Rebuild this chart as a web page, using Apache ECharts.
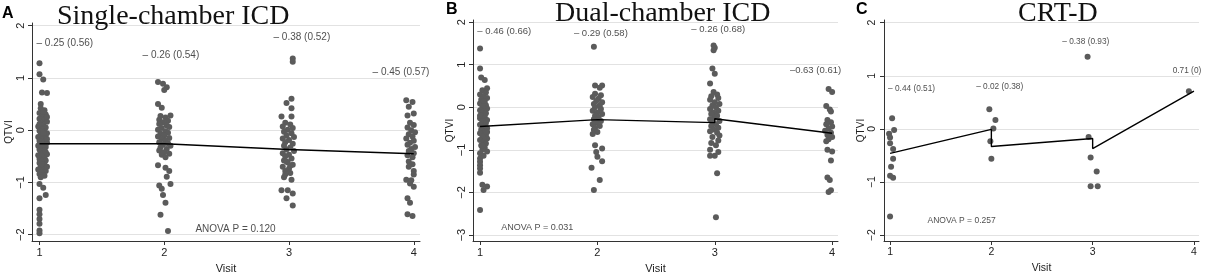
<!DOCTYPE html>
<html>
<head>
<meta charset="utf-8">
<script src="https://cdn.jsdelivr.net/npm/echarts@6/dist/echarts.min.js"></script>
<style>
  html, body { margin: 0; padding: 0; background: #fff; }
  #chart { width: 1205px; height: 279px; }
</style>
</head>
<body>
<div id="chart"></div>
<script>
// visit categories on the x axis
const visits = [1, 2, 3, 4]
const ticksA = [-2, -1, 0, 1, 2]
const ticksB = [-3, -2, -1, 0, 1, 2]
const ticksC = [-2, -1, 0, 1, 2]

// QTVI per patient, [visit + jitter, value]
const singleV1 = [[1.0,1.28],[1.0,1.07],[1.03,0.97],[1.02,0.72],[1.06,0.71],[1.01,0.5],
  [1.01,0.42],[1.04,0.38],[1.0,0.33],[1.05,0.3],[1.02,0.27],[1.0,0.22],[1.04,0.2],[1.06,0.16],[1.01,0.13],[1.03,0.1],
  [0.99,0.07],[1.05,0.05],[1.02,0.02],[1.0,-0.01],[1.04,-0.03],[1.06,-0.06],[1.01,-0.08],[1.03,-0.11],[0.99,-0.13],
  [1.05,-0.15],[1.02,-0.18],[1.0,-0.2],[1.04,-0.22],[1.06,-0.24],[1.01,-0.26],[1.03,-0.28],[0.99,-0.3],[1.05,-0.32],
  [1.02,-0.34],[1.0,-0.37],[1.04,-0.39],[1.01,-0.41],[1.03,-0.44],[1.06,-0.46],[0.99,-0.48],[1.02,-0.5],[1.04,-0.53],
  [1.0,-0.55],[1.05,-0.58],[1.02,-0.6],[1.0,-0.63],[1.04,-0.66],[1.01,-0.69],[1.03,-0.72],[0.99,-0.75],[1.05,-0.78],
  [1.02,-0.81],[1.0,-0.84],[1.04,-0.87],[1.01,-0.9],[1.03,0.35],[1.06,0.25],[1.0,0.12],[1.03,-0.05],[1.06,-0.17],
  [1.0,-0.27],[1.05,-0.42],[1.02,-0.65],[1.06,-0.7],
  [1.0,-1.03],[1.03,-1.1],[1.05,-1.24],[1.0,-1.3],[1.0,-1.52],[1.0,-1.61],[1.0,-1.7],[1.0,-1.79],[1.0,-1.92],[1.0,-1.97]]
const singleV2 = [[1.95,0.92],[1.99,0.89],[2.02,0.82],[2.0,0.77],[1.95,0.5],[1.98,0.43],
  [2.05,0.28],[1.97,0.27],[2.01,0.24],[1.96,0.2],[2.03,0.18],[1.99,0.15],[1.96,0.12],[2.02,0.09],[2.04,0.06],[1.98,0.04],
  [1.95,0.01],[2.01,-0.02],[2.03,-0.05],[1.97,-0.07],[2.0,-0.1],[1.95,-0.12],[2.04,-0.15],[1.98,-0.17],[2.01,-0.2],
  [1.96,-0.23],[2.03,-0.25],[1.99,-0.28],[2.05,-0.3],[1.97,-0.33],[2.02,-0.36],[1.96,-0.39],[2.0,-0.42],[2.04,-0.45],
  [1.98,-0.47],[2.01,-0.52],
  [1.95,-0.67],[2.01,-0.72],[2.04,-0.78],[2.02,-0.89],[2.05,-1.03],[1.96,-1.06],[1.98,-1.12],[1.99,-1.24],[2.01,-1.39],
  [1.97,-1.62],[2.03,-1.93]]
const singleV3 = [[3.03,1.37],[3.03,1.31],[3.02,0.6],[2.98,0.52],[3.02,0.42],[2.94,0.26],[3.02,0.26],
  [2.97,0.14],[3.01,0.11],[2.95,0.07],[3.03,0.04],[2.99,0.01],[2.96,-0.03],[3.02,-0.06],[2.98,-0.1],[3.04,-0.13],
  [2.95,-0.16],[3.0,-0.19],[2.97,-0.23],[3.03,-0.26],[2.96,-0.3],[3.01,-0.33],[2.98,-0.37],[3.04,-0.4],[2.95,-0.44],
  [3.0,-0.47],[2.97,-0.5],[3.02,-0.54],[2.96,-0.58],[2.99,-0.62],[3.03,-0.66],[2.95,-0.7],[3.0,-0.74],[2.97,-0.78],
  [3.01,-0.82],[2.96,-0.9],[3.02,-0.95],[2.98,-0.6],[3.01,-0.68],[2.97,-0.85],
  [2.94,-1.15],[2.99,-1.15],[2.98,-1.3],[3.03,-1.21],[3.03,-1.44]]
const singleV4 = [[3.94,0.57],[3.99,0.54],[3.96,0.45],[4.0,0.32],[3.95,0.28],
  [3.97,0.14],[4.0,0.1],[3.95,0.05],[3.98,0.0],[4.01,-0.04],[3.96,-0.08],[3.99,-0.12],[3.94,-0.16],[4.0,-0.2],
  [3.97,-0.24],[3.95,-0.28],[4.01,-0.32],[3.98,-0.36],[3.96,-0.4],[4.0,-0.44],[3.95,-0.48],[3.99,-0.52],
  [3.96,-0.6],[3.99,-0.65],[3.96,-0.7],[4.0,-0.78],[4.0,-0.85],[3.94,-0.95],[3.98,-0.96],[3.97,-1.02],[4.0,-1.08],
  [3.95,-1.3],[3.97,-1.39],[3.95,-1.61],[3.99,-1.64]]

const dualV1 = [[1.0,1.38],[1.0,0.91],[1.01,0.7],[1.04,0.64],[1.06,0.45],
  [1.02,0.4],[1.05,0.35],[1.0,0.3],[1.03,0.26],[1.06,0.22],[1.01,0.18],[1.04,0.13],[1.0,0.09],[1.05,0.05],[1.02,0.01],
  [1.06,-0.03],[1.0,-0.07],[1.03,-0.1],[1.05,-0.14],[1.01,-0.18],[1.04,-0.22],[1.0,-0.26],[1.06,-0.3],[1.02,-0.33],
  [1.05,-0.37],[1.0,-0.41],[1.03,-0.45],[1.06,-0.49],[1.01,-0.53],[1.04,-0.57],[1.0,-0.61],[1.05,-0.65],[1.02,-0.69],
  [1.06,-0.73],[1.0,-0.77],[1.03,-0.81],[1.05,-0.85],[1.01,-0.9],[1.04,-0.95],[1.02,-1.0],[1.06,-1.04],[1.0,-1.08],
  [1.03,-1.14],[1.03,0.15],[1.0,-0.2],[1.06,-0.58],[1.02,-0.9],
  [1.0,-1.2],[1.0,-1.28],[1.0,-1.36],[1.0,-1.44],[1.0,-1.54],[1.02,-1.82],[1.06,-1.86],[1.03,-1.94],[1.0,-2.41]]
const dualV2 = [[1.97,1.42],[1.98,0.51],[2.04,0.51],[2.02,0.46],
  [1.98,0.32],[2.03,0.28],[1.96,0.24],[2.01,0.2],[1.99,0.15],[2.04,0.12],[1.97,0.08],[2.02,0.04],[1.98,0.0],
  [2.03,-0.04],[1.96,-0.08],[2.0,-0.12],[2.04,-0.16],[1.98,-0.2],[2.01,-0.24],[1.97,-0.28],[2.03,-0.32],[1.99,-0.36],
  [1.96,-0.4],[2.02,-0.44],[1.98,-0.48],[1.97,-0.53],[2.0,-0.58],[1.96,-0.63],
  [1.98,-0.89],[2.04,-0.97],[1.99,-1.05],[2.0,-1.16],[2.04,-1.27],[1.95,-1.42],[2.02,-1.71],[1.97,-1.94]]
const dualV3 = [[2.99,1.45],[3.0,1.4],[2.99,1.34],[2.98,0.91],[3.0,0.79],[2.96,0.56],
  [2.99,0.36],[3.02,0.3],[2.97,0.26],[3.03,0.22],[2.96,0.18],[3.0,0.12],[3.04,0.08],[2.98,0.04],[3.01,0.0],
  [2.96,-0.04],[3.03,-0.08],[2.99,-0.12],[2.97,-0.16],[3.02,-0.2],[3.0,-0.24],[2.96,-0.28],[3.04,-0.32],[2.98,-0.36],
  [3.01,-0.4],[2.97,-0.44],[3.03,-0.48],[2.99,-0.52],[2.96,-0.56],[3.02,-0.6],[3.04,-0.66],[2.98,-0.7],[3.03,-0.78],
  [2.97,-0.84],[3.01,-0.89],[2.96,-1.0],[3.0,-1.14],[2.96,-1.14],[3.03,-1.05],[3.02,-1.55],[3.01,-2.58]]
const dualV4 = [[3.97,0.43],[4.0,0.36],[3.95,0.03],[3.98,-0.05],[3.99,-0.1],
  [3.96,-0.3],[3.99,-0.35],[3.95,-0.4],[4.0,-0.45],[3.97,-0.5],[3.94,-0.55],[3.99,-0.6],[3.96,-0.65],[4.0,-0.7],
  [3.97,-0.75],[3.95,-0.8],
  [3.96,-1.0],[4.0,-1.04],[3.99,-1.25],[3.96,-1.65],[3.98,-1.71],[3.99,-1.95],[3.97,-1.99]]

const crtV1 = [[1.02,0.2],[1.04,-0.02],[0.99,-0.09],[1.0,-0.16],[1.0,-0.27],[1.03,-0.38],[1.03,-0.56],[1.01,-0.71],
  [1.0,-0.88],[1.03,-0.92],[1.0,-1.65]]
const crtV2 = [[1.98,0.37],[2.04,0.17],[2.02,0.01],[1.99,-0.23],[2.0,-0.56]]
const crtV3 = [[2.95,1.36],[2.96,-0.15],[2.98,-0.54],[3.04,-0.8],[2.98,-1.08],[3.05,-1.08]]
const crtV4 = [[3.95,0.71]]

// connecting line of the visit means
const singleMean = [[1,-0.26],[2,-0.26],[2,-0.29],[3,-0.37],[4,-0.45]]
const dualMean = [[1,-0.45],[2,-0.29],[2,-0.33],[3,-0.36],[3,-0.27],[4,-0.61]]
const crtMean = [[1,-0.46],[2,-0.01],[2,-0.33],[3,-0.18],[3,-0.37],[4,0.71]]

// mean (SD) captions and ANOVA results
const singleLabels = ['\u2013 0.25 (0.56)', '\u2013 0.26 (0.54)', '\u2013 0.38 (0.52)', '\u2013 0.45 (0.57)']
const dualLabels = ['\u2013 0.46 (0.66)', '\u2013 0.29 (0.58)', '\u2013 0.26 (0.68)', '\u20130.63 (0.61)']
const crtLabels = ['\u2013 0.44 (0.51)', '\u2013 0.02 (0.38)', '\u2013 0.38 (0.93)', '0.71 (0)']
const anovaTexts = ['ANOVA P = 0.120', 'ANOVA P = 0.031', 'ANOVA P = 0.257']
const panelTitles = ['Single-chamber ICD', 'Dual-chamber ICD', 'CRT-D']

// where captions sit, in data units of each panel
const singleLabelAt = [[0.976, 1.67], [1.826, 1.43], [2.876, 1.78], [3.67, 1.11]]
const dualLabelAt = [[0.977, 1.78], [1.8, 1.73], [2.8, 1.83], [3.64, 0.86]]
const crtLabelAt = [[0.98, 0.76], [1.85, 0.79], [2.7, 1.64], [3.79, 1.09]]
const anovaAt = [[2.25, -1.89], [1.18, -2.82], [1.37, -1.73]]

const SANS = "'Liberation Sans', Arial, sans-serif"
const SERIF = "'Liberation Serif', serif"
const DOT = '#5b5b5b'

function xAxisFor(i, size) {
  return {
    gridIndex: i,
    type: 'value',
    min: 0.94,
    max: 4.05,
    name: 'Visit',
    nameLocation: 'middle',
    nameGap: 22,
    nameTextStyle: { fontFamily: SANS, fontSize: size, color: '#222' },
    axisLine: { onZero: false, lineStyle: { color: '#333', width: 1 } },
    axisTick: { length: 4, customValues: visits, lineStyle: { color: '#333' } },
    axisLabel: { customValues: visits, margin: 6, fontFamily: SANS, fontSize: size, color: '#222' },
    splitLine: { show: false }
  }
}

function yAxisFor(i, min, ticks, size) {
  return {
    gridIndex: i,
    type: 'value',
    min: min,
    max: 2.05,
    name: 'QTVI',
    nameLocation: 'middle',
    nameGap: 18,
    nameTextStyle: { fontFamily: SANS, fontSize: 10, color: '#222' },
    axisLine: { show: true, onZero: false, lineStyle: { color: '#333', width: 1 } },
    axisTick: { show: true, length: 4, customValues: ticks, lineStyle: { color: '#333' } },
    axisLabel: { customValues: ticks, rotate: 90, margin: 6, fontFamily: SANS, fontSize: size, color: '#222',
      formatter: v => (v < 0 ? '\u2212' + Math.abs(v) : String(v)) },
    splitLine: { show: true, lineStyle: { color: '#e2e2e2', width: 1 } }
  }
}

function dots(i, pts) {
  return { type: 'scatter', xAxisIndex: i, yAxisIndex: i, data: pts, symbolSize: 6,
    itemStyle: { color: DOT, opacity: 1 }, silent: true, z: 2 }
}

function meanLine(i, pts) {
  return { type: 'line', xAxisIndex: i, yAxisIndex: i, data: pts, showSymbol: false,
    lineStyle: { color: '#000', width: 1.4 }, silent: true, z: 3 }
}

function captions(i, texts, at, size) {
  return { type: 'scatter', xAxisIndex: i, yAxisIndex: i, symbolSize: 0, silent: true, z: 4,
    data: texts.map((t, k) => [at[k][0], at[k][1], t]),
    label: { show: true, position: 'right', distance: 0, formatter: p => p.data[2],
      fontFamily: SANS, fontSize: size, color: '#222' } }
}

const titleStyle = { fontFamily: SERIF, fontSize: 28, fontWeight: 'normal', color: '#111' }
const letterStyle = { fontFamily: SANS, fontSize: 16, fontWeight: 'bold', color: '#000' }

const chart = echarts.init(document.getElementById('chart'))
chart.setOption({
  animation: false,
  backgroundColor: '#fff',
  title: [
    { text: panelTitles[0], left: 57, top: 3, padding: 0, textStyle: titleStyle },
    { text: panelTitles[1], left: 555, top: 0, padding: 0, textStyle: titleStyle },
    { text: panelTitles[2], left: 1018, top: 0, padding: 0, textStyle: titleStyle },
    { text: 'A', left: 2, top: 6, padding: 0, textStyle: letterStyle },
    { text: 'B', left: 446, top: 2, padding: 0, textStyle: letterStyle },
    { text: 'C', left: 856, top: 2, padding: 0, textStyle: letterStyle }
  ],
  grid: [
    { left: 32, top: 23, width: 388, height: 226 },
    { left: 473, top: 20, width: 365, height: 229 },
    { left: 884, top: 20, width: 315, height: 229 }
  ],
  xAxis: [xAxisFor(0, 11), xAxisFor(1, 11), xAxisFor(2, 10.5)],
  yAxis: [yAxisFor(0, -2.12, ticksA, 11), yAxisFor(1, -3.14, ticksB, 11), yAxisFor(2, -2.11, ticksC, 10.5)],
  series: [
    dots(0, singleV1), dots(0, singleV2), dots(0, singleV3), dots(0, singleV4),
    dots(1, dualV1), dots(1, dualV2), dots(1, dualV3), dots(1, dualV4),
    dots(2, crtV1), dots(2, crtV2), dots(2, crtV3), dots(2, crtV4),
    meanLine(0, singleMean), meanLine(1, dualMean), meanLine(2, crtMean),
    captions(0, singleLabels, singleLabelAt, 10),
    captions(1, dualLabels, dualLabelAt, 9.5),
    captions(2, crtLabels, crtLabelAt, 8.3),
    captions(0, [anovaTexts[0]], [anovaAt[0]], 10),
    captions(1, [anovaTexts[1]], [anovaAt[1]], 9),
    captions(2, [anovaTexts[2]], [anovaAt[2]], 8.5)
  ]
})
</script>
</body>
</html>
